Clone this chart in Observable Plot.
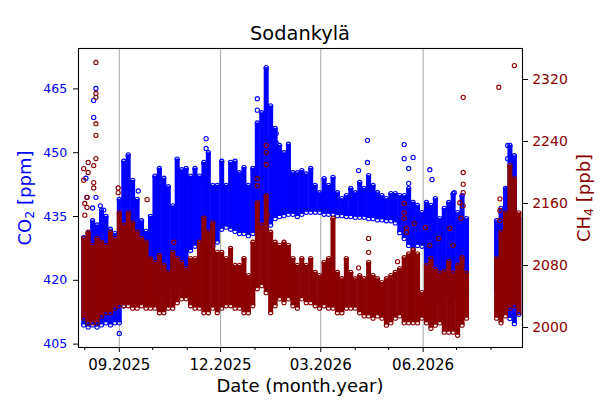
<!DOCTYPE html>
<html><head><meta charset="utf-8">
<script src="https://cdn.jsdelivr.net/npm/d3@7"></script>
<script src="https://cdn.jsdelivr.net/npm/@observablehq/plot@0.6"></script>
<style>
body{margin:0;background:#fff;}
#chart{position:relative;width:600px;height:400px;background:#fff;font-family:"DejaVu Sans",sans-serif;overflow:hidden}
#chart .layer{position:absolute;left:0;top:0}
.lbl{position:absolute;white-space:nowrap;line-height:1;}
.lbl sub{font-size:70%;vertical-align:-0.22em;line-height:0}
#title{left:300px;top:23.6px;font-size:19.4px;transform:translateX(-50%);color:#000}
#xlabel{left:300px;top:376.8px;font-size:18px;transform:translateX(-50%);color:#000}
#ylabelL{left:24.5px;top:197.5px;font-size:18px;transform:translate(-50%,-50%) rotate(-90deg);color:#0000ff}
#ylabelR{left:583.8px;top:197.5px;font-size:18px;transform:translate(-50%,-50%) rotate(-90deg);color:#8b0000}
</style></head><body>
<div id="chart">
<div id="co2Layer" class="layer"></div>
<div id="ch4Layer" class="layer"></div>
<div class="lbl" id="title">Sodankylä</div>
<div class="lbl" id="xlabel">Date (month.year)</div>
<div class="lbl" id="ylabelL">CO<sub>2</sub> [ppm]</div>
<div class="lbl" id="ylabelR">CH<sub>4</sub> [ppb]</div>
</div>
<script>
// ---- data (4-day buckets: dense envelope) ----
const bucketDates = [
"2025-07-31","2025-08-04","2025-08-08","2025-08-12","2025-08-16","2025-08-20","2025-08-24","2025-08-28",
"2025-09-01","2025-09-05","2025-09-09","2025-09-13","2025-09-17","2025-09-21","2025-09-25","2025-09-29",
"2025-10-03","2025-10-07","2025-10-11","2025-10-15","2025-10-19","2025-10-23","2025-10-27","2025-10-31",
"2025-11-04","2025-11-08","2025-11-12","2025-11-16","2025-11-20","2025-11-24","2025-11-28",
"2025-12-02","2025-12-06","2025-12-10","2025-12-14","2025-12-18","2025-12-22","2025-12-26","2025-12-30",
"2026-01-03","2026-01-07","2026-01-11","2026-01-15","2026-01-19","2026-01-23","2026-01-27","2026-01-31",
"2026-02-04","2026-02-08","2026-02-12","2026-02-16","2026-02-20","2026-02-24","2026-02-28",
"2026-03-04","2026-03-08","2026-03-12","2026-03-16","2026-03-20","2026-03-24","2026-03-28",
"2026-04-01","2026-04-05","2026-04-09","2026-04-13","2026-04-17","2026-04-21","2026-04-25","2026-04-29",
"2026-05-03","2026-05-07","2026-05-11","2026-05-15","2026-05-19","2026-05-23","2026-05-27","2026-05-31",
"2026-06-04","2026-06-08","2026-06-12","2026-06-16","2026-06-20","2026-06-24","2026-06-28",
"2026-07-02","2026-07-06","2026-07-10",
"2026-08-06","2026-08-10","2026-08-14","2026-08-18","2026-08-22","2026-08-26"];

const co2Hi = [
430,431,434,433,436.5,435,432,431,439,448,
449.5,443.5,439,434,431.5,435,444.5,446.3,444,442,
437.5,448.5,446,446.3,444.5,446.3,444.5,447.7,450,442.3,
442.3,448,442.3,447.7,448,445.3,446.5,442.3,446.3,457,
459.4,470,461,455.7,451.7,450,452,445.3,445.3,445.8,
445,446.3,442.3,440.6,443.9,442.3,444.2,440.6,439.2,439.9,
441.6,440.6,443,441.6,444.6,442.3,440.6,439.9,439.2,440.4,
440.4,439.9,439.9,441.6,438.3,437.6,435.9,438.3,437.6,439.2,
434.5,436.9,438.3,440.4,435.9,439.9,434.5,434,436.9,441.6,
451.7,449.3,434.5];
const co2Lo = [
409.5,409,409.5,409,409.5,410,409.5,410,410,414,
415,416,416,416.5,416.5,417,417,417.5,418,418,
418,419,419.5,420,427,428,428.5,431,429,428,
429,432,432.5,432,431.5,431,431,430.5,431,432,
432.5,432,433,434.5,435,435.2,435.5,435.5,435,435.5,
436,436,436,436,435.5,435.5,435.5,435.2,435.2,435,
435,434.8,434.8,434.8,434.5,434.5,434.2,434.2,434,434,
433.5,431.2,429.8,428.2,427.5,428.2,428,417,416,416,
416.5,416,416,416.5,416,416.5,417,418,415,413,
411,409.8,412];
const ch4Hi = [
2115,2123,2106,2115,2110,2106,2123,2115,2148,2132,
2148,2135,2123,2115,2110,2089,2084,2093,2080,2071,
2097,2089,2084,2076,2089,2089,2110,2141,2123,2135,
2097,2097,2089,2102,2080,2080,2089,2067,2110,2161,
2132,2170,2123,2110,2106,2110,2106,2089,2080,2089,
2080,2089,2071,2067,2084,2089,2141,2071,2063,2089,
2071,2063,2067,2063,2084,2067,2063,2058,2063,2067,
2071,2076,2090,2095,2100,2095,2045,2080,2085,2075,
2070,2072,2085,2070,2080,2090,2070,2089,2123,2148,
2209,2192,2148];
const ch4Lo = [
2012,2006,2006,2006,2015,2019,2019,2025,2028,2028,
2028,2025,2025,2028,2025,2025,2025,2019,2019,2025,
2025,2032,2037,2037,2028,2025,2025,2019,2019,2025,
2019,2025,2028,2028,2025,2025,2019,2019,2028,2050,
2054,2045,2019,2028,2037,2032,2037,2028,2025,2037,
2032,2032,2028,2025,2028,2025,2025,2019,2019,2025,
2025,2025,2019,2015,2015,2012,2015,2012,2003,2006,
2012,2015,2006,2006,2006,2006,2012,2006,1999,2003,
2006,1994,1994,1994,1990,2003,2012,2012,2006,2015,
2025,2028,2019];

// ---- isolated points ----
const co2OutDates = ["2025-08-02","2025-08-03","2025-08-09","2025-08-09","2025-08-11","2025-08-11","2025-08-08",
"2025-08-15","2025-08-18","2025-09-01","2025-09-18","2025-11-18","2025-11-18","2026-01-03","2026-01-03",
"2026-01-20","2026-01-20","2026-04-04","2026-04-12","2026-04-12","2026-05-15","2026-05-15","2026-05-19",
"2026-05-19","2026-05-23","2026-06-07","2026-06-09","2026-06-29","2026-08-16","2026-08-16","2026-08-15"];
const co2OutValues = [444,439.5,462.3,458.3,465.1,439.5,437,
437.5,436.5,407.5,441,453.3,451,462.7,460,
454.5,452.3,445.8,452.9,447.7,451.9,448.6,446.3,
442.8,448.9,446,443.7,440.6,451.7,448.6,441.3];

const ch4OutDates = ["2025-08-11","2025-08-11","2025-08-11","2025-08-11","2025-08-11","2025-08-11",
"2025-08-04","2025-08-04","2025-08-09","2025-08-09","2025-08-03","2025-08-03","2025-08-09",
"2025-07-31","2025-07-31","2025-08-01","2025-08-01",
"2025-08-31","2025-08-31","2025-09-26","2025-10-20",
"2026-01-03","2026-01-03","2026-01-11","2026-01-11","2026-01-11","2026-01-12",
"2026-04-04","2026-04-13","2026-04-13","2026-05-09","2026-05-15","2026-05-15","2026-05-15",
"2026-05-17","2026-05-17","2026-05-24","2026-06-03","2026-06-07","2026-06-08","2026-06-15",
"2026-06-25","2026-06-28","2026-07-04","2026-07-05",
"2026-07-07","2026-07-07","2026-07-07","2026-07-07","2026-07-07",
"2026-08-08","2026-08-22","2026-08-09","2026-08-09","2026-08-09"];
const ch4OutValues = [2342,2302,2297,2263,2248,2218,
2213,2200,2209,2187,2168,2155,2180,
2205,2190,2160,2145,
2180,2174,2165,2110,
2192,2183,2235,2226,2210,2145,
2077,2115,2097,2085,2160,2148,2141,
2128,2123,2134,2129,2106,2089,2115,
2128,2106,2161,2141,
2297,2200,2185,2174,2157,
2310,2338,2166,2151,2138];

// ---- axes ----
const co2Ticks = [405,420,435,450,465];
const ch4Ticks = [2000,2080,2160,2240,2320];
const xMajorDates = ["2025-09-01","2025-12-01","2026-03-01","2026-06-01"];
const xTickLabels = ["09.2025","12.2025","03.2026","06.2026"];
const xMinorDates = ["2025-08-01","2025-10-01","2025-11-01","2026-01-01","2026-02-01","2026-04-01","2026-05-01","2026-07-01","2026-08-01"];
const co2Domain = [404.2,474.5];
const ch4Domain = [1974.2,2360];
const xDomain = [new Date(Date.UTC(2025,6,26,8)), new Date(Date.UTC(2026,7,29,7))];

const BLUE = "#0000ff", DARKRED = "#8b0000";
const parse = s => new Date(s + "T00:00:00Z");

const band = bucketDates.map((d,i)=>({date:parse(d), co2Lo:co2Lo[i], co2Hi:co2Hi[i], ch4Lo:ch4Lo[i], ch4Hi:ch4Hi[i]}));
const co2Out = co2OutDates.map((d,i)=>({date:parse(d), value:co2OutValues[i]}));
const ch4Out = ch4OutDates.map((d,i)=>({date:parse(d), value:ch4OutValues[i]}));
const xMajor = xMajorDates.map(parse);
const xMinor = xMinorDates.map(parse);
const labelMap = new Map(xMajor.map((d,i)=>[+d, xTickLabels[i]]));

const common = {
  width:600, height:400, marginLeft:78, marginRight:78, marginTop:48, marginBottom:53,
  style:{background:"transparent", fontFamily:"DejaVu Sans, sans-serif", fontSize:"14px", overflow:"visible"}
};
const dotOpt = (y, color) => ({x:"date", y, r:2.1, stroke:color, strokeWidth:1.1, fill:"none"});

const co2Plot = Plot.plot({
  ...common,
  x:{type:"utc", domain:xDomain, label:null},
  y:{domain:co2Domain, label:null},
  marks:[
    Plot.ruleX(xMajor, {stroke:"#b0b0b0", strokeWidth:1.1}),
    Plot.ruleX(band, {x:"date", y1:"co2Lo", y2:"co2Hi", stroke:BLUE, strokeWidth:5}),
    Plot.dot(band, dotOpt("co2Hi", BLUE)),
    Plot.dot(band, dotOpt("co2Lo", BLUE)),
    Plot.dot(co2Out, dotOpt("value", BLUE)),
    Plot.axisY(co2Ticks, {anchor:"left", tickSize:5, tickPadding:6.3, stroke:"black", fill:BLUE, fontSize:12.5, tickFormat:d=>String(d), label:null}),
    Plot.axisX(xMajor, {anchor:"bottom", tickSize:5, tickPadding:6.5, stroke:"black", fill:"black", fontSize:15, tickFormat:d=>labelMap.get(+d), label:null}),
    Plot.axisX(xMinor, {anchor:"bottom", tickSize:3, stroke:"black", fill:"none", label:null})
  ]
});

const ch4Plot = Plot.plot({
  ...common,
  x:{type:"utc", domain:xDomain, label:null, axis:null},
  y:{domain:ch4Domain, label:null},
  marks:[
    Plot.ruleX(band, {x:"date", y1:"ch4Lo", y2:"ch4Hi", stroke:DARKRED, strokeWidth:5}),
    Plot.dot(band, dotOpt("ch4Hi", DARKRED)),
    Plot.dot(band, dotOpt("ch4Lo", DARKRED)),
    Plot.dot(ch4Out, dotOpt("value", DARKRED)),
    Plot.axisY(ch4Ticks, {anchor:"right", tickSize:5, tickPadding:4.7, stroke:"black", fill:DARKRED, fontSize:14, tickFormat:d=>String(d), label:null}),
    Plot.frame({stroke:"black", strokeWidth:1.1})
  ]
});

document.getElementById("co2Layer").append(co2Plot);
document.getElementById("ch4Layer").append(ch4Plot);
</script>
</body></html>
